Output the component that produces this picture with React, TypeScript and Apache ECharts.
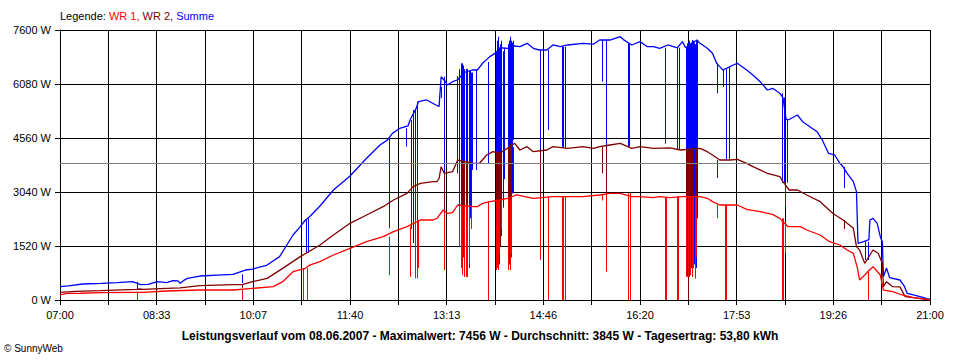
import React, { useEffect, useRef } from "react";
import * as echarts from "echarts";

// x values are minutes after 07:00, y values are watts
const xLabels = ["07:00", "08:33", "10:07", "11:40", "13:13", "14:46", "16:20", "17:53", "19:26", "21:00"];
const xMax = 840;
const yMax = 7600;
const yStep = 1520;
const avgPower = 3845;
const legendText = ["Legende:", "WR 1,", "WR 2,", "Summe"];
const footerTitle = "Leistungsverlauf vom 08.06.2007 - Maximalwert: 7456 W - Durchschnitt: 3845 W - Tagesertrag: 53,80 kWh";
const copyright = "© SunnyWeb";

// Summe (blue)
const sumTrend = [
  [0, 375], [8, 400], [22, 450], [40, 470], [55, 490], [70, 516], [78, 430], [85, 440], [94, 516], [103, 490],
  [109, 544], [114, 540], [116, 469], [120, 560], [123, 610], [135, 675], [152, 703], [167, 722], [179, 844],
  [186, 872], [200, 985], [212, 1220], [219, 1548], [225, 1830], [232, 2064], [237, 2252], [241, 2345],
  [251, 2646], [264, 3096], [280, 3490], [296, 3990], [309, 4363], [316, 4500], [321, 4691], [328, 4832],
  [336, 4900], [338, 5066], [344, 5400], [346, 5582], [354, 5630], [363, 5489], [366, 5450], [368, 6286],
  [372, 6150], [374, 6052], [379, 6145], [384, 6200], [390, 6400], [398, 6474], [403, 6474], [408, 6662],
  [415, 6850], [420, 6943], [425, 7100], [432, 7084], [439, 7150], [444, 7131], [451, 7225], [457, 7084],
  [463, 7037], [470, 7037], [476, 7178], [483, 7130], [490, 7178], [505, 7225], [515, 7200], [521, 7318],
  [531, 7318], [541, 7412], [544, 7330], [552, 7178], [560, 7272], [567, 7131], [573, 7131], [579, 7084],
  [587, 7178], [596, 7100], [601, 7272], [604, 7100], [615, 7318], [618, 7225], [625, 7084], [630, 6943],
  [634, 6662], [637, 6568], [640, 6474], [647, 6568], [650, 6615], [654, 6662], [663, 6474], [669, 6333],
  [676, 6145], [683, 5911], [688, 5958], [695, 5818], [698, 5700], [701, 5100], [703, 5066], [712, 5207],
  [717, 5019], [724, 4879], [731, 4738], [736, 4504], [742, 4129], [748, 4082], [753, 3848], [756, 3750],
  [760, 3566], [766, 3331], [769, 3049], [770.5, 1596], [776, 1642], [781, 1700], [782, 2252], [785, 2299],
  [789, 2158], [792, 1782], [794, 1642], [795, 657], [798, 900], [801, 629], [811, 563], [815, 400],
  [818, 188], [824, 141], [833, 75], [838, 28], [840, 20],
];
// [minute, top, bottom] of short drops
const sumSpikes = [
  [74.3, 516, 281], [175.7, 722, 478], [237.6, 2252, 1323], [239.6, 2300, 1323], [317.7, 4550, 2160],
  [334, 4832, 4316], [338.5, 5066, 3190], [341, 5348, 1600], [343, 5348, 1600], [345, 5582, 1600],
  [367.5, 6000, 5686], [370.5, 6286, 2300], [383.6, 6300, 3566], [385.6, 6500, 3566], [386.9, 6662, 1689],
  [388.5, 6662, 2533], [389.5, 6600, 2200], [390.1, 6500, 1970], [391.7, 6500, 1970], [392.5, 6450, 1800],
  [393.3, 6500, 1689], [394.9, 6450, 2064], [395.5, 6450, 2300], [396.6, 6400, 2500], [398.2, 6400, 3660],
  [401.4, 6500, 3660], [413.5, 6700, 3848], [420.5, 7000, 1600], [421.5, 7300, 1600], [422.5, 7412, 1700],
  [423.5, 7100, 1600], [424.5, 7200, 2300], [425.3, 7150, 1900], [426, 7300, 1800], [427.5, 7000, 2600],
  [428.3, 7050, 3400], [429, 7100, 4600], [432.5, 7200, 2158], [433.3, 7300, 2300], [434, 7412, 2158],
  [435.5, 7300, 2400], [436.3, 7250, 3000], [437, 7300, 4500], [463.4, 7037, 1877], [471.2, 7037, 4785],
  [484.7, 7130, 4279], [486, 7130, 4279], [487.6, 7130, 4279], [523.3, 7318, 6145], [527.2, 7318, 1780],
  [548.4, 7225, 4316], [549.4, 7225, 4316], [584.1, 7100, 4400], [596, 7100, 4222], [598, 7100, 4222],
  [604.5, 7100, 1600], [605.5, 7225, 1600], [606.2, 7250, 1200], [607, 7300, 657], [608.5, 7225, 1000],
  [609.3, 7250, 900], [610, 7318, 657], [611.5, 7300, 1500], [612.2, 7250, 1000], [613, 7200, 657],
  [614.5, 7318, 900], [615.5, 7318, 2300], [634.3, 6662, 5818], [640, 6474, 6000], [643, 6500, 3941],
  [645.5, 6550, 3941], [697.5, 5818, 3300], [699.5, 5700, 3300], [701.5, 5066, 3300], [757, 3750, 3152],
  [777.2, 1642, 1126], [780.1, 1642, 1126],
];

// WR 2 (dark red)
const wr2Trend = [
  [0, 216], [15, 240], [39, 263], [74, 300], [77, 310], [80, 300], [103, 328], [116, 340], [135, 403],
  [167, 432], [176, 432], [186, 516], [200, 610], [215, 891], [232, 1220], [251, 1548], [264, 1830],
  [280, 2158], [296, 2393], [312, 2627], [322, 2815], [335, 3002], [341, 3190], [348, 3284], [360, 3331],
  [364, 3331], [366, 3420], [368, 3753], [371, 3566], [379, 3612], [384, 3940], [399, 3848], [405, 3848],
  [412, 4082], [418, 4175], [425, 4129], [432, 4269], [439, 4410], [444, 4222], [451, 4316], [457, 4175],
  [470, 4222], [476, 4316], [490, 4269], [505, 4316], [515, 4269], [521, 4316], [531, 4363], [541, 4410],
  [552, 4269], [560, 4316], [573, 4269], [589, 4280], [599, 4222], [618, 4269], [625, 4175], [630, 4082],
  [637, 3941], [647, 3941], [654, 3960], [663, 3847], [669, 3753], [683, 3566], [695, 3472], [698, 3331],
  [704, 3096], [712, 3096], [721, 2956], [734, 2768], [746, 2440], [756, 2252], [760, 2158], [766, 2018],
  [769, 1501], [772, 1407], [777, 1032], [782, 1267], [785, 1407], [790, 1314], [794, 1032], [795, 375],
  [798, 516], [804, 375], [811, 370], [816, 94], [824, 66], [837, 19], [840, 10],
];
const wr2Spikes = [
  [175.7, 432, 338], [317.7, 2627, 2018], [338.5, 3190, 2000], [342.8, 3190, 657], [344.7, 3284, 657],
  [370.5, 3566, 2400], [385, 3900, 1700], [386.9, 3941, 1100], [388.5, 3900, 2000], [389.5, 3900, 1200],
  [390.1, 3900, 657], [391.7, 3900, 657], [392.5, 3900, 800], [393.3, 3850, 657], [394.9, 3850, 900],
  [396.6, 3848, 2500], [420.5, 4129, 844], [421.5, 4200, 900], [422.5, 4175, 844], [423.5, 4150, 1000],
  [424.5, 4129, 1500], [426, 4150, 2200], [432.5, 4269, 844], [433.3, 4300, 1000], [434, 4410, 844],
  [435.5, 4300, 1200], [437, 4300, 3000], [463.4, 4222, 1830], [523.3, 4316, 3566], [527.2, 4316, 1126],
  [604.5, 4222, 657], [605.5, 4222, 657], [606.3, 4222, 0], [607, 4222, 657], [608.5, 4222, 900],
  [610, 4269, 657], [611.5, 4222, 1100], [613, 4222, 657], [614.5, 4269, 1300], [634.3, 3941, 3434],
  [700, 3331, 2627], [757, 2252, 2000],
];

// WR 1 (red)
const wr1Trend = [
  [0, 141], [7, 188], [20, 190], [40, 210], [74, 216], [80, 216], [103, 253], [135, 281], [167, 281],
  [186, 328], [206, 375], [215, 516], [225, 797], [237, 891], [241, 985], [251, 1079], [264, 1267],
  [280, 1454], [296, 1642], [312, 1782], [322, 1923], [335, 2064], [348, 2252], [360, 2252], [364, 2300],
  [370, 2533], [374, 2440], [379, 2460], [384, 2674], [399, 2627], [403, 2627], [408, 2721], [415, 2768],
  [425, 2815], [432, 2862], [441, 2956], [457, 2862], [476, 2909], [490, 2909], [505, 2909], [521, 2956],
  [531, 3002], [541, 3002], [552, 2909], [560, 2909], [573, 2881], [579, 2909], [589, 2881], [601, 2909],
  [618, 2909], [625, 2862], [630, 2768], [637, 2674], [654, 2674], [663, 2552], [676, 2486], [688, 2411],
  [695, 2299], [698, 2200], [703, 2064], [715, 2064], [721, 1970], [734, 1830], [743, 1642], [753, 1548],
  [760, 1407], [766, 1314], [770, 891], [772, 563], [777, 703], [780, 800], [785, 938], [792, 703],
  [795, 281], [804, 235], [813, 141], [824, 66], [837, 19], [840, 10],
];
const wr1Spikes = [
  [74.3, 216, 0], [175.7, 281, 0], [235, 891, 0], [238.2, 891, 0], [317.7, 1782, 703], [337.9, 2064, 657],
  [342.8, 2252, 610], [344.7, 2252, 610], [345.7, 2252, 900], [370.8, 2533, 844], [385, 2674, 1500],
  [386.9, 2674, 900], [388.5, 2674, 700], [390.1, 2674, 657], [391.7, 2674, 657], [393.3, 2674, 657],
  [394.9, 2627, 1000], [396.6, 2627, 2000], [413.5, 2768, 0], [420.5, 2815, 844], [421.5, 2815, 900],
  [422.5, 2815, 844], [423.5, 2815, 1300], [426, 2815, 2000], [432.5, 2862, 844], [434, 2862, 844],
  [435.5, 2862, 1300], [463.4, 2862, 1126], [471.2, 2909, 0], [484.7, 2909, 0], [486, 2909, 0],
  [487.6, 2909, 0], [523.3, 2956, 2800], [527.2, 2956, 797], [548.4, 3002, 0], [550, 3002, 0],
  [584.1, 2881, 0], [585.1, 2881, 0], [596, 2909, 0], [597, 2909, 0], [604.5, 2909, 657], [606.3, 2909, 657],
  [608.5, 2909, 700], [610, 2909, 657], [611.5, 2909, 900], [613, 2909, 600], [614.5, 2909, 1200],
  [634.3, 2674, 2300], [642, 2674, 0], [643.5, 2674, 0], [697.1, 2299, 0], [698.1, 2299, 0],
  [700, 2200, 1314], [780.1, 800, 0],
];

const COLORS = { wr1: "#ff0000", wr2: "#800000", sum: "#0000ff" };
const FONT = "'Liberation Sans', Arial, sans-serif";

function trendSeries(name: string, data: number[][], color: string, extra: any = {}) {
  return {
    type: "line",
    name,
    data,
    showSymbol: false,
    symbol: "none",
    lineStyle: { color, width: 1.3 },
    itemStyle: { color },
    silent: true,
    ...extra,
  };
}

function spikeSeries(name: string, data: number[][], color: string) {
  return {
    type: "custom",
    name,
    data,
    encode: { x: 0, y: [1, 2] },
    silent: true,
    renderItem: (_params: any, api: any) => {
      const p1 = api.coord([api.value(0), api.value(1)]);
      const p2 = api.coord([api.value(0), api.value(2)]);
      const x = Math.round(p1[0]) + 0.5;
      return {
        type: "line",
        shape: { x1: x, y1: p1[1], x2: x, y2: p2[1] },
        style: { stroke: color, lineWidth: 1 },
      };
    },
  };
}

export default function App() {
  const ref = useRef<HTMLDivElement>(null);
  useEffect(() => {
    if (!ref.current) return;
    const chart = echarts.init(ref.current, undefined, { renderer: "svg" });
    const xStep = xMax / 18;
    chart.setOption({
      animation: false,
      backgroundColor: "#ffffff",
      textStyle: { fontFamily: FONT },
      title: [
        {
          left: 60,
          top: 10,
          padding: 0,
          text: `{k|${legendText[0]}} {a|${legendText[1]}} {b|${legendText[2]}} {c|${legendText[3]}}`,
          textStyle: {
            fontSize: 11,
            fontWeight: "normal",
            rich: {
              k: { color: "#000", fontSize: 11, fontFamily: FONT },
              a: { color: COLORS.wr1, fontSize: 11, fontFamily: FONT },
              b: { color: COLORS.wr2, fontSize: 11, fontFamily: FONT },
              c: { color: COLORS.sum, fontSize: 11, fontFamily: FONT },
            },
          },
        },
        {
          left: 480,
          textAlign: "center",
          top: 330,
          padding: 0,
          text: footerTitle,
          textStyle: { fontSize: 12, fontWeight: "bold", color: "#000", fontFamily: FONT },
        },
        {
          left: 4,
          top: 343,
          padding: 0,
          text: copyright,
          textStyle: { fontSize: 10, fontWeight: "normal", color: "#000", fontFamily: FONT },
        },
      ],
      grid: { left: 60, top: 30, width: 870, height: 270, containLabel: false, show: false },
      xAxis: {
        type: "value",
        min: 0,
        max: xMax,
        interval: xStep,
        axisLine: { show: true, lineStyle: { color: "#000", width: 1 } },
        axisTick: { show: true, length: 5, lineStyle: { color: "#000" } },
        splitLine: { show: true, lineStyle: { color: "#000", width: 1 } },
        axisLabel: {
          margin: 9,
          fontSize: 11,
          color: "#000",
          fontFamily: FONT,
          formatter: (v: number) => {
            const i = Math.round(v / xStep);
            if (Math.abs(v - i * xStep) > 0.01 || i % 2 !== 0) return "";
            return xLabels[i / 2] ?? "";
          },
        },
      },
      yAxis: {
        type: "value",
        min: 0,
        max: yMax,
        interval: yStep,
        axisLine: { show: true, lineStyle: { color: "#000", width: 1 } },
        axisTick: { show: true, length: 5, lineStyle: { color: "#000" } },
        splitLine: { show: true, lineStyle: { color: "#000", width: 1 } },
        axisLabel: {
          margin: 9,
          fontSize: 11,
          color: "#000",
          fontFamily: FONT,
          formatter: (v: number) => `${v} W`,
        },
      },
      series: [
        trendSeries("Summe", sumTrend, COLORS.sum, {
          markLine: {
            silent: true,
            symbol: "none",
            label: { show: false },
            lineStyle: { color: "#808080", width: 1, type: "solid" },
            data: [{ yAxis: avgPower }],
          },
        }),
        spikeSeries("Summe-drops", sumSpikes, COLORS.sum),
        trendSeries("WR 2", wr2Trend, COLORS.wr2),
        spikeSeries("WR 2-drops", wr2Spikes, COLORS.wr2),
        trendSeries("WR 1", wr1Trend, COLORS.wr1),
        spikeSeries("WR 1-drops", wr1Spikes, COLORS.wr1),
      ],
    });
    return () => chart.dispose();
  }, []);
  return (
    <div
      ref={ref}
      style={{ position: "absolute", left: 0, top: 0, width: 960, height: 360, background: "#fff" }}
    />
  );
}
